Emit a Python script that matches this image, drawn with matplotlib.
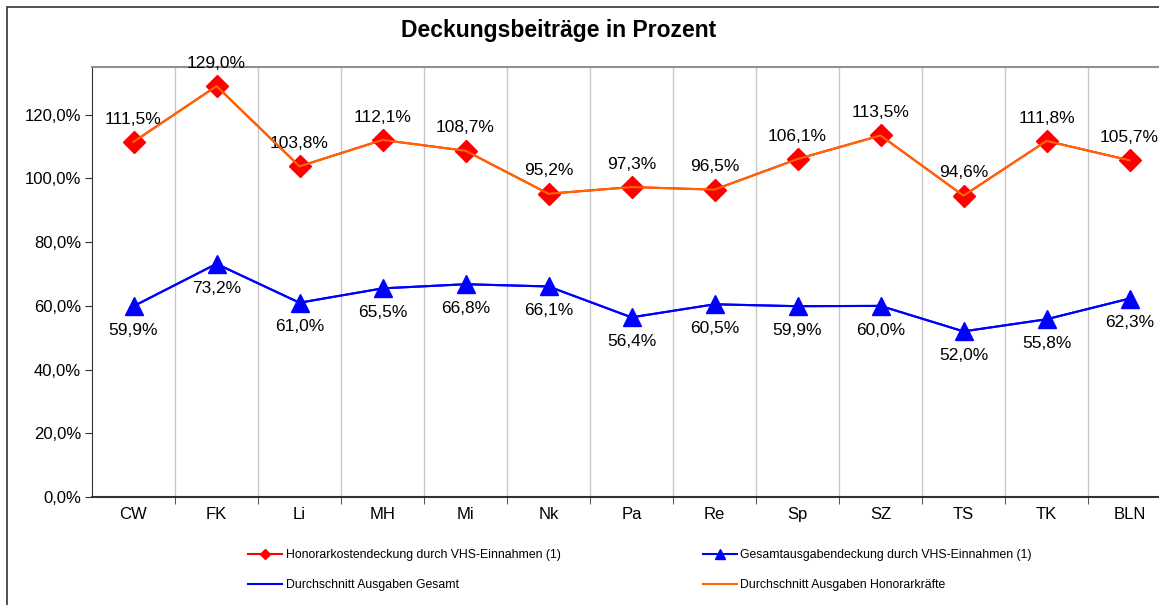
import matplotlib.pyplot as plt
from matplotlib.patches import Rectangle

plt.rcParams['font.family'] = ['Liberation Sans', 'DejaVu Sans']

categories = ["CW", "FK", "Li", "MH", "Mi", "Nk", "Pa", "Re", "Sp", "SZ", "TS", "TK", "BLN"]
honorar = [111.5, 129.0, 103.8, 112.1, 108.7, 95.2, 97.3, 96.5, 106.1, 113.5, 94.6, 111.8, 105.7]
gesamt = [59.9, 73.2, 61.0, 65.5, 66.8, 66.1, 56.4, 60.5, 59.9, 60.0, 52.0, 55.8, 62.3]

W, H = 1159, 605
fig = plt.figure(figsize=(W / 100, H / 100), dpi=100)
# plot area in pixel coords: left 92, top 67, bottom 497, width 13 * 83
left, top, bottom, right = 92, 67, 497, 92 + 13 * 83
ax = fig.add_axes([left / W, 1 - bottom / H, (right - left) / W, (bottom - top) / H])

# outer chart border
fig.patches.append(Rectangle((7 / W, -0.05), 1.2, 1 - 7 / H + 0.05, transform=fig.transFigure,
                             fill=False, edgecolor='#333333', linewidth=1.2, zorder=0))

x = list(range(len(categories)))
l1, = ax.plot(x, honorar, color='red', marker='D', markersize=11, linewidth=1.5, zorder=3,
              label='Honorarkostendeckung durch VHS-Einnahmen (1)')
l2, = ax.plot(x, gesamt, color='blue', marker='^', markersize=13, linewidth=1.5, zorder=3,
              label='Gesamtausgabendeckung durch VHS-Einnahmen (1)')
l3, = ax.plot(x, gesamt, color='blue', linewidth=1.5, zorder=4, label='Durchschnitt Ausgaben Gesamt')
l4, = ax.plot(x, honorar, color='#ff6600', linewidth=1.5, zorder=4, label='Durchschnitt Ausgaben Honorarkräfte')

for xi, v in zip(x, honorar):
    ax.annotate(f"{v:.1f}%".replace('.', ','), (xi, v), xytext=(0, 11), textcoords='offset points',
                ha='center', va='bottom', fontsize=12.5, clip_on=False)
for xi, v in zip(x, gesamt):
    ax.annotate(f"{v:.1f}%".replace('.', ','), (xi, v), xytext=(0, -12), textcoords='offset points',
                ha='center', va='top', fontsize=12.5)

ax.set_xlim(-0.5, len(categories) - 0.5)
ax.set_ylim(0, 135)
ax.set_yticks(range(0, 140, 20))
ax.set_yticklabels([f"{t:.1f}%".replace('.', ',') for t in range(0, 140, 20)], fontsize=12)
ax.set_xticks(x)
ax.set_xticklabels(categories, fontsize=12)
ax.set_xticks([i + 0.5 for i in x[:-1]], minor=True)
ax.tick_params(axis='x', which='major', length=0, pad=7)
ax.tick_params(axis='x', which='minor', length=5, direction='out', color='#333333')
ax.tick_params(axis='y', length=5, direction='out', color='#333333', pad=3)
ax.grid(True, axis='x', which='minor', color='#c8c8c8', linewidth=1)
ax.spines['left'].set_color('#333333')
ax.spines['bottom'].set_color('#333333')
ax.spines['bottom'].set_linewidth(1.5)
ax.spines['top'].set_color('#909090')
ax.spines['top'].set_linewidth(1.5)
ax.spines['right'].set_visible(False)

fig.text(559 / W, 1 - 30 / H, 'Deckungsbeiträge in Prozent', ha='center', va='center',
         fontsize=16.5, fontweight='bold')

fig.legend(handles=[l1, l3, l2, l4], loc='center', bbox_to_anchor=(640 / W, 1 - 570 / H), ncol=2,
           frameon=False, fontsize=8.8, handlelength=2.8, columnspacing=11.6, labelspacing=1.5,
           markerscale=0.5, handletextpad=0.3)

fig.savefig('out.png', dpi=100)
